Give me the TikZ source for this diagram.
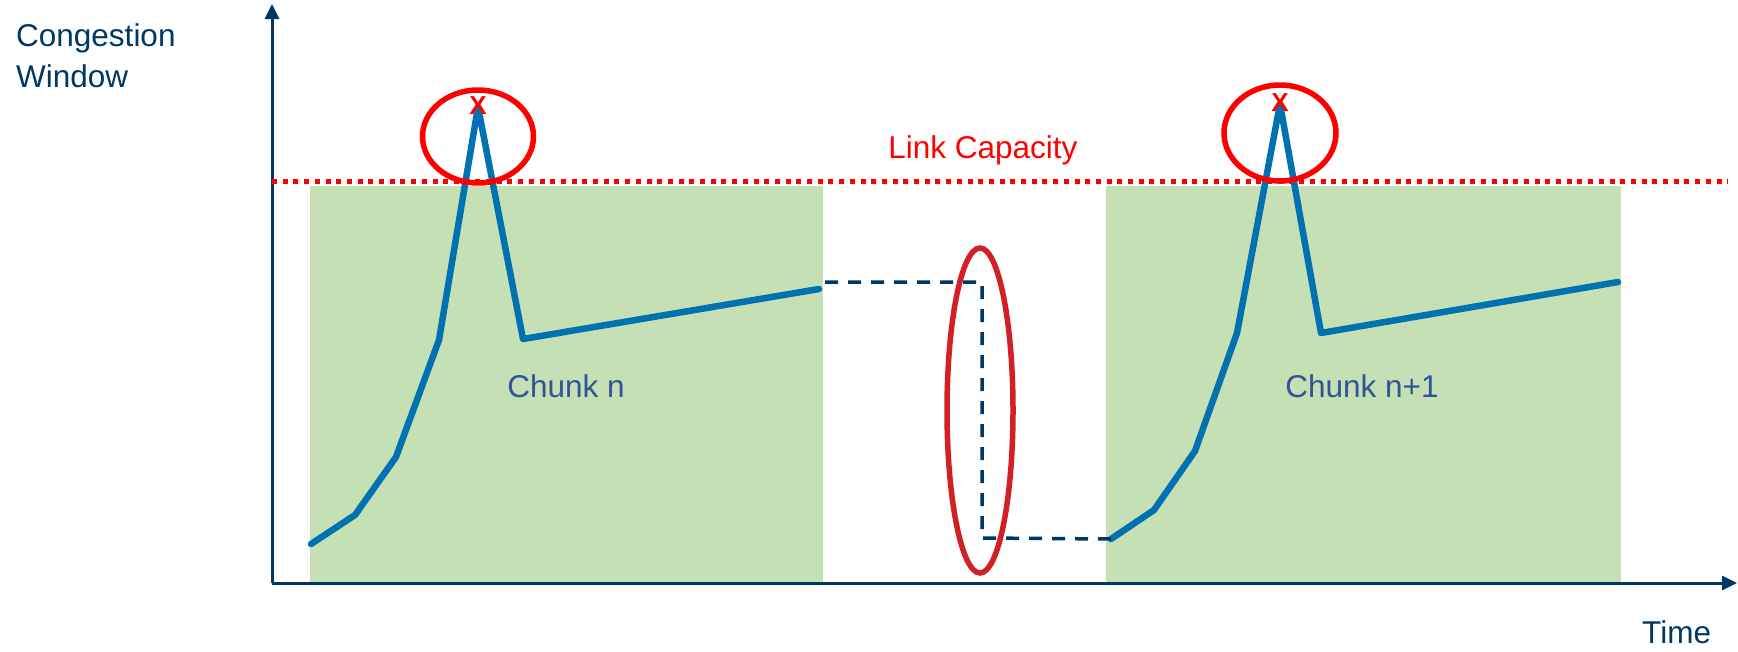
\documentclass[tikz,border=0pt]{standalone}
\usepackage{fontspec}
\setmainfont{Liberation Sans}
\usetikzlibrary{arrows.meta,shapes.geometric}

\definecolor{axisnavy}{RGB}{0,56,101}
\definecolor{chunktext}{RGB}{47,85,151}
\definecolor{chunkgreen}{RGB}{197,224,180}
\definecolor{capred}{RGB}{255,0,0}
\definecolor{gapred}{RGB}{210,32,39}
\definecolor{cwndblue}{RGB}{0,114,178}

\tikzset{
  axis/.style={draw=axisnavy, line width=3pt, -{Triangle[length=15pt,width=14pt]}},
  chunkbox/.style={fill=chunkgreen, draw=none},
  cwnd/.style={draw=cwndblue, line width=6.5pt, line join=round, line cap=round},
  capline/.style={draw=capred, line width=5pt, dash pattern=on 5pt off 5.7pt},
  lossring/.style={ellipse, draw=capred, line width=5.5pt, inner sep=0pt},
  gapring/.style={ellipse, draw=gapred, line width=5.5pt, inner sep=0pt},
  idle/.style={draw=axisnavy, line width=3.5pt, dash pattern=on 13pt off 10pt},
  label/.style={inner sep=0pt, font=\fontsize{31.5}{41.5}\selectfont},
  lossmark/.style={inner sep=0pt, text=capred, font=\fontsize{26}{26}\selectfont\bfseries}
}

\begin{document}
\begin{tikzpicture}[x=1pt, y=-1pt]
\useasboundingbox (0,0) rectangle (1738,651);

% chunk intervals
\fill[chunkbox] (310,186) rectangle (823,583);
\fill[chunkbox] (1106,186) rectangle (1621,583);

% axes
\coordinate (origin) at (272,583);
\coordinate (ytip) at (272,4);
\coordinate (xtip) at (1737,583);
\draw[axis] (origin) -- (ytip);
\draw[axis] (origin) -- (xtip);

% link capacity
\coordinate (capL) at (272,181);
\coordinate (capR) at (1728,181);
\draw[capline] (capL) -- (capR);
\node[label, text=capred, anchor=base] (caplabel) at (983,158) {Link Capacity};

% axis labels (base anchor sits on the last line)
\node[label, text=axisnavy, anchor=base west, align=left] (ylabel) at (16,87.5) {Congestion\\Window};
\node[label, text=axisnavy, anchor=base west] (xlabel) at (1642,643) {Time};

% congestion window of chunk n
\coordinate (a1) at (311,544);
\coordinate (a2) at (355,515);
\coordinate (a3) at (396,457);
\coordinate (a4) at (439,340);
\coordinate (a5) at (478,107);
\coordinate (a6) at (523,339);
\coordinate (a7) at (819,289);
\draw[cwnd] (a1) -- (a2) -- (a3) -- (a4) -- (a5) -- (a6) -- (a7);

% congestion window of chunk n+1
\coordinate (b1) at (1111,539);
\coordinate (b2) at (1154,510);
\coordinate (b3) at (1195,451);
\coordinate (b4) at (1237,333);
\coordinate (b5) at (1280,104);
\coordinate (b6) at (1321,333);
\coordinate (b7) at (1618,282);
\draw[cwnd] (b1) -- (b2) -- (b3) -- (b4) -- (b5) -- (b6) -- (b7);

% idle period between chunks
\coordinate (idleA) at (825,282);
\coordinate (idleB) at (982,538);
\draw[idle] (idleA) -| (idleB) -- (b1);

% chunk labels
\node[label, text=chunktext, anchor=base] (chunkA) at (566,397) {Chunk n};
\node[label, text=chunktext, anchor=base] (chunkB) at (1362,397) {Chunk n+1};

% loss events
\node[lossring, minimum width=111pt, minimum height=93pt] (ringA) at (478,136.5) {};
\node[lossring, minimum width=112pt, minimum height=96pt] (ringB) at (1280,133) {};
\node[lossmark] (xA) at (478,106) {X};
\node[lossmark] (xB) at (1280,103) {X};

% window reset after idle
\node[gapring, minimum width=66pt, minimum height=325pt] (ringGap) at (980,410.5) {};
\end{tikzpicture}
\end{document}
